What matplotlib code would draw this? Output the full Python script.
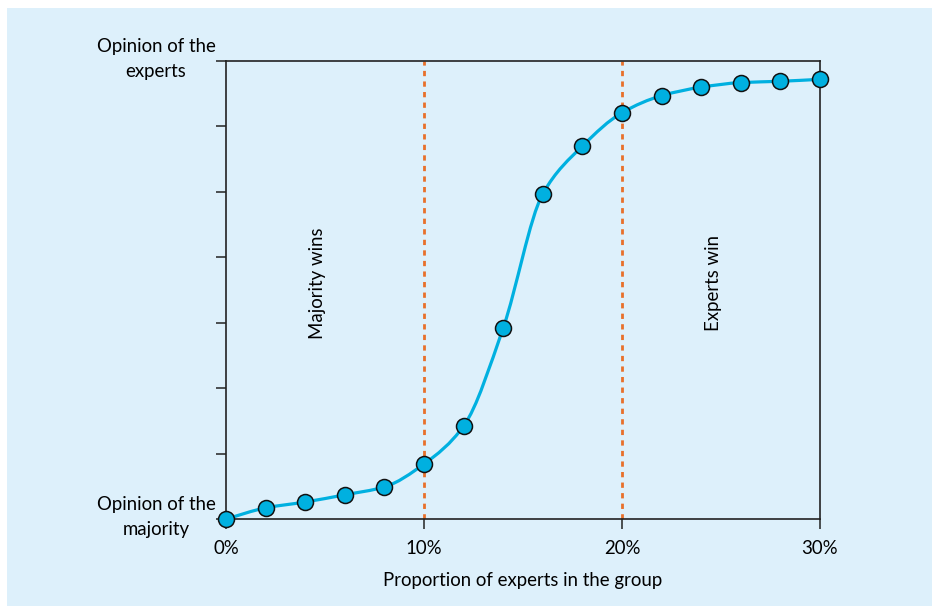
import numpy as np
import matplotlib
matplotlib.use("Agg")
import matplotlib.pyplot as plt
from matplotlib.path import Path
from matplotlib.patches import PathPatch, Rectangle

plt.rcParams['font.family'] = ['Lato', 'DejaVu Sans']

# data (y on a 0..7 tick scale)
share = [0, 2, 4, 6, 8, 10, 12, 14, 16, 18, 20, 22, 24, 26, 28, 30]
opinion = [0.0, 0.17, 0.26, 0.37, 0.49, 0.84, 1.42, 2.92, 4.97, 5.70, 6.21, 6.47, 6.60, 6.67, 6.69, 6.72]
x_ticks = [0, 10, 20, 30]
x_labels = ["0%", "10%", "20%", "30%"]
low_label = "Opinion of the\nmajority"
high_label = "Opinion of the\nexperts"
splits = [10, 20]

bg = "#ddf0fb"
blue = "#00b0e0"
orange = "#e8702a"
fs = 13.4

fig = plt.figure(figsize=(9.32, 6.06), dpi=100)
fig.patch.set_facecolor("white")
fig.patches.append(Rectangle((7 / 932, 0), 1, 1 - 8 / 606, transform=fig.transFigure,
                             facecolor=bg, edgecolor="none", zorder=-1))
ax = fig.add_axes([226 / 932, 1 - 519 / 606, 594 / 932, 458 / 606])
ax.set_facecolor(bg)

# smooth monotone curve through the points (pchip tangents as cubic beziers)
x = np.array(share, float)
y = np.array(opinion, float)
h = np.diff(x)
m = np.diff(y) / h
d = np.zeros_like(y)
d[0], d[-1] = m[0], m[-1]
for i in range(1, len(y) - 1):
    if m[i - 1] * m[i] > 0:
        d[i] = 2 * m[i - 1] * m[i] / (m[i - 1] + m[i])
verts = [(x[0], y[0])]
codes = [Path.MOVETO]
for i in range(len(x) - 1):
    verts += [(x[i] + h[i] / 3, y[i] + d[i] * h[i] / 3),
              (x[i + 1] - h[i] / 3, y[i + 1] - d[i + 1] * h[i] / 3),
              (x[i + 1], y[i + 1])]
    codes += [Path.CURVE4] * 3
ax.add_patch(PathPatch(Path(verts, codes), facecolor="none", edgecolor=blue,
                       lw=2.3, zorder=3, clip_on=False))

for s in splits:
    ax.plot([s, s], [0, 7], color=orange, lw=2.0, dashes=(1.9, 1.9), zorder=2)

ax.plot(share, opinion, "o", ms=11.5, mfc=blue, mec="#111111", mew=1.1,
        zorder=4, clip_on=False)

ax.text(4.6, 3.6, "Majority wins", rotation=90, ha="center", va="center", fontsize=fs)
ax.text(24.6, 3.6, "Experts win", rotation=90, ha="center", va="center", fontsize=fs)

ax.set_xlim(0, 30)
ax.set_ylim(0, 7)
ax.set_xticks(x_ticks)
ax.set_xticklabels(x_labels, fontsize=fs)
ax.set_yticks(range(8))
ax.set_yticklabels([])
for yy, lab in [(0, low_label), (7, high_label)]:
    ax.annotate(lab, xy=(0, yy), xytext=(-70, 2), textcoords="offset pixels",
                ha="center", va="center", multialignment="center",
                linespacing=1.6, fontsize=fs, annotation_clip=False)
ax.tick_params(length=7, width=1.1, color="#222222")
ax.tick_params(axis="x", pad=8)
ax.set_xlabel("Proportion of experts in the group", fontsize=fs, labelpad=11)
for sp in ax.spines.values():
    sp.set_linewidth(1.2)
    sp.set_color("#222222")

fig.savefig("out.png", dpi=100, facecolor=fig.get_facecolor())
